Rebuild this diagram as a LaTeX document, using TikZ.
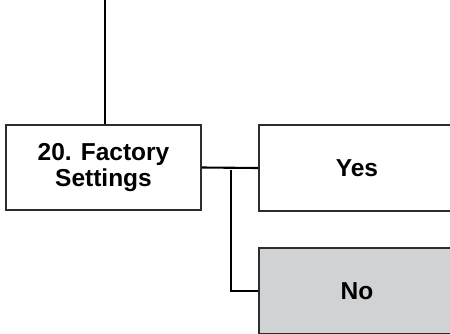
\documentclass[tikz,border=0pt]{standalone}
\usepackage{fontspec}
\setmainfont{Liberation Sans}
\usepackage{tikz}

\definecolor{boxline}{RGB}{45,45,45}
\definecolor{nofill}{RGB}{209,210,212}

\begin{document}
\begin{tikzpicture}[x=1pt,y=-1pt,
    menubox/.style={draw=boxline,line width=1.7pt,minimum width=196pt,minimum height=86pt,
        inner sep=0pt,align=center,font=\fontsize{24.5}{25.5}\selectfont\bfseries},
    link/.style={draw=black,line width=2.1pt}]
    \useasboundingbox (0,0) rectangle (450,333);
    \node[menubox,minimum width=195pt,minimum height=85pt] (factory) at (103.5,167.5) {20. Factory\\Settings};
    \node[menubox] (yes) at (357,168) {Yes};
    \node[menubox,fill=nofill] (no) at (357,291) {No};
    \coordinate (top) at (105,0);
    \coordinate (branch) at (231,169.5);
    \draw[link] (top) -- (top |- factory.north);
    \draw[link] (factory.east) -- (yes.west);
    \draw[link] (branch) |- (no.west);
\end{tikzpicture}
\end{document}
